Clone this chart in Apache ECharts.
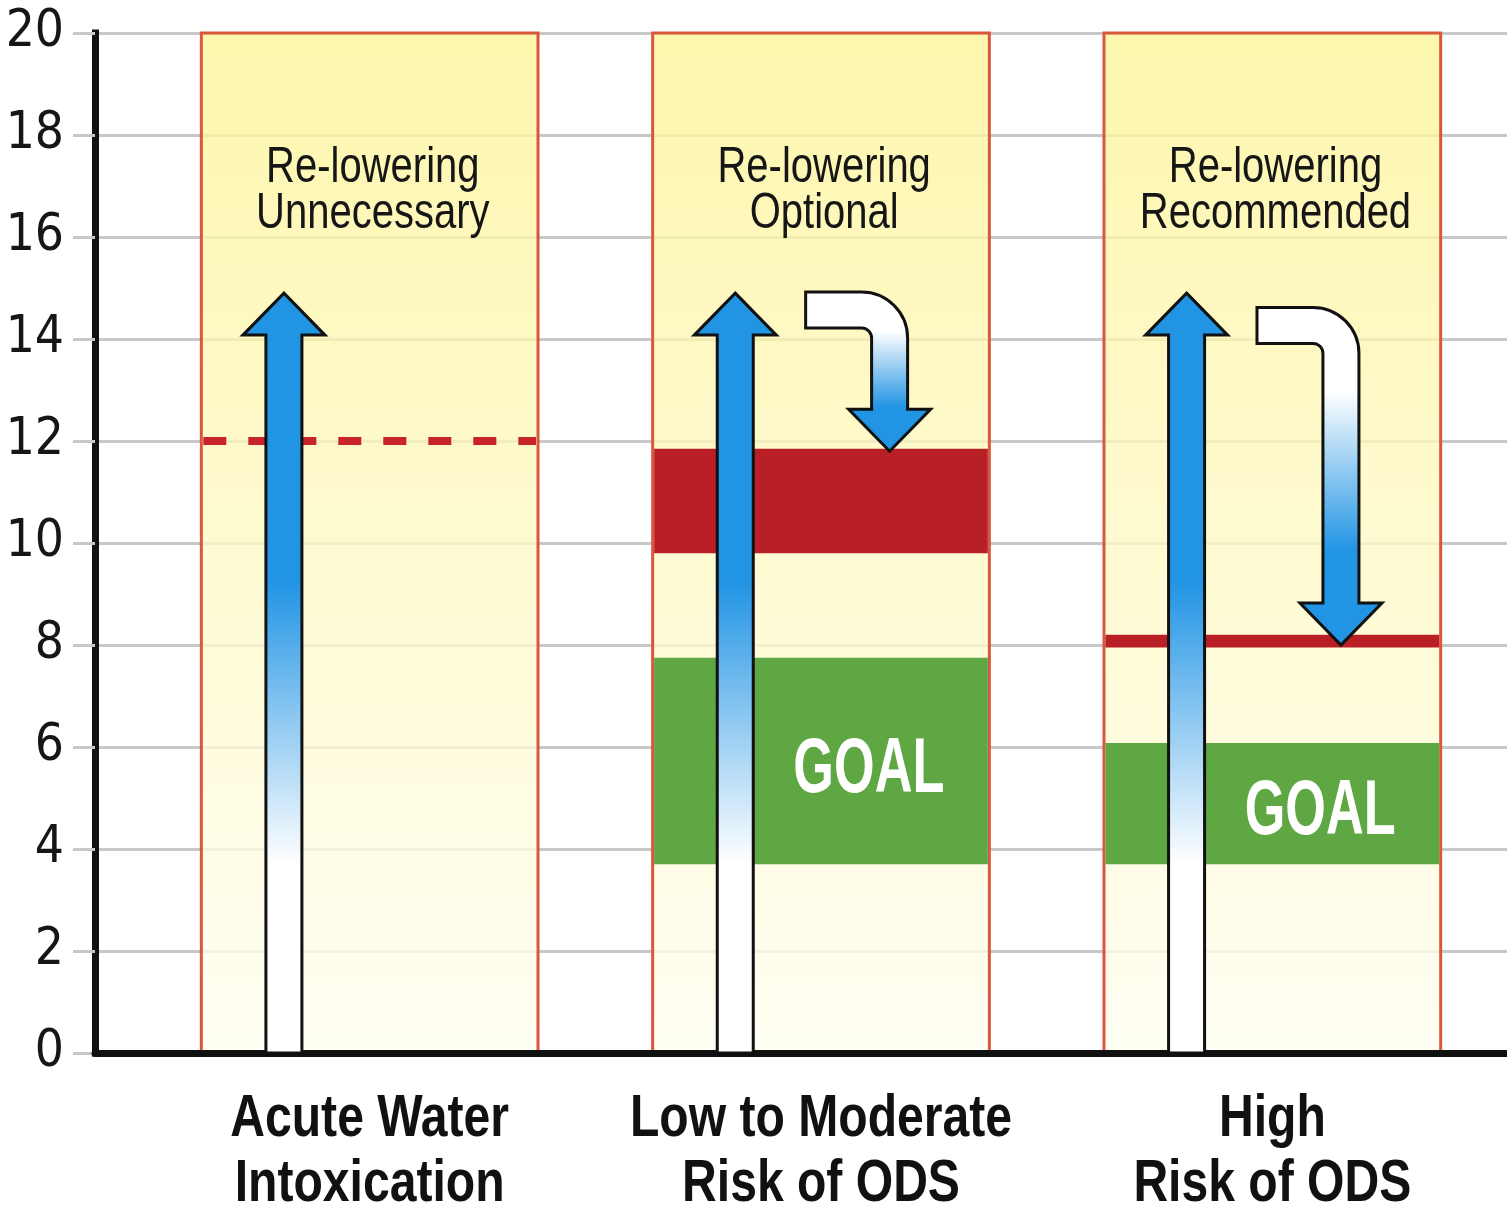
<!DOCTYPE html>
<html>
<head>
<meta charset="utf-8">
<script src="https://cdn.jsdelivr.net/npm/echarts@6/dist/echarts.min.js"></script>
<style>
  html, body { margin: 0; padding: 0; background: #ffffff; }
  #chart { width: 1507px; height: 1210px; }
</style>
</head>
<body>
<div id="chart"></div>
<script>
// ---- data ----
const categories = ['Acute Water\nIntoxication', 'Low to Moderate\nRisk of ODS', 'High\nRisk of ODS'];
const panelTitles = ['Re-lowering\nUnnecessary', 'Re-lowering\nOptional', 'Re-lowering\nRecommended'];
const yMin = 0, yMax = 20, yStep = 2;
const panelLow = [0, 0, 0];
const panelHigh = [20, 20, 20];
const titleLevel = [16.9, 16.9, 16.9];
const riseTop = [14.9, 14.9, 14.9];          // blue upward arrows (0 -> top)
const dashedLimit = [12, null, null];        // dashed red limit line
const limitLow = [null, 9.8, 7.95];          // solid red limit band
const limitHigh = [null, 11.85, 8.2];
const goalLow = [null, 3.7, 3.7];            // green goal band
const goalHigh = [null, 7.75, 6.08];
const goalText = [null, 'GOAL', 'GOAL'];
const relowerFrom = [null, 14.92, 14.62];    // hooked re-lowering arrows
const relowerTo = [null, 11.8, 8.0];

// ---- styling ----
const SANS = "'Liberation Sans', Arial, Helvetica, sans-serif";
const TICK_FONT = "'DejaVu Sans Condensed', 'Liberation Sans', sans-serif";
const BLUE = '#2194e4';
const PANEL_FRAC = 0.746;      // panel width as a share of the category band
const RISE_SHIFT = -0.19;      // up-arrow offset from band centre (share of band)
const HOOK_LEFT = -0.034;      // hook start offset (share of band)
const HOOK_SHAFT = 0.152;      // hook shaft offset (share of band)
const GOAL_SHIFT = 0.106;      // GOAL text offset (share of band)
const GOAL_DROP = 9;           // nudges GOAL so its caps sit centred in the band
const TITLE_SHIFT = 0.007;
const CAT_GAP = 34;            // gap between the baseline and the category labels
const ARROW = { half: 18, head: 41, len: 42, outerR: 46, innerR: 10 };

const chart = echarts.init(document.getElementById('chart'), null, { renderer: 'canvas' });

const panelFill = new echarts.graphic.LinearGradient(0, 0, 0, 1, [
  { offset: 0, color: 'rgba(253,244,150,0.78)' },
  { offset: 0.5, color: 'rgba(254,249,196,0.78)' },
  { offset: 1, color: 'rgba(255,254,240,0.78)' }
]);
const riseFill = new echarts.graphic.LinearGradient(0, 0, 0, 1, [
  { offset: 0, color: BLUE },
  { offset: 0.38, color: BLUE },
  { offset: 0.75, color: '#ffffff' },
  { offset: 1, color: '#ffffff' }
]);
const hookFill = new echarts.graphic.LinearGradient(0, 0, 0, 1, [
  { offset: 0, color: '#ffffff' },
  { offset: 0.25, color: '#ffffff' },
  { offset: 0.72, color: BLUE },
  { offset: 1, color: BLUE }
]);

function bandWidth(api) { return api.size([1, 0])[0]; }

function panelItem(params, api) {
  const i = api.value(0);
  const top = api.coord([i, api.value(2)]);
  const bot = api.coord([i, api.value(1)]);
  const w = bandWidth(api) * PANEL_FRAC;
  const x0 = top[0] - w / 2;
  return {
    type: 'group',
    children: [
      { type: 'rect', shape: { x: x0, y: top[1], width: w, height: bot[1] - top[1] }, style: { fill: panelFill } },
      {
        type: 'polyline',
        shape: { points: [[x0, bot[1]], [x0, top[1]], [x0 + w, top[1]], [x0 + w, bot[1]]] },
        style: { stroke: '#d9583d', lineWidth: 3, fill: 'none' }
      }
    ]
  };
}

function dashedItem(params, api) {
  const i = api.value(0);
  const p = api.coord([i, api.value(1)]);
  const w = bandWidth(api) * PANEL_FRAC;
  return {
    type: 'line',
    shape: { x1: p[0] - w / 2 + 2, y1: p[1], x2: p[0] + w / 2 - 2, y2: p[1] },
    style: { stroke: '#c8222b', lineWidth: 8, lineDash: [23, 22] }
  };
}

function bandItemFactory(color) {
  return function (params, api) {
    const i = api.value(0);
    const lo = api.coord([i, api.value(1)]);
    const hi = api.coord([i, api.value(2)]);
    const w = bandWidth(api) * PANEL_FRAC - 3;
    return {
      type: 'rect',
      shape: { x: lo[0] - w / 2, y: hi[1], width: w, height: lo[1] - hi[1] },
      style: { fill: color }
    };
  };
}

function riseItem(params, api) {
  const i = api.value(0);
  const b = bandWidth(api);
  const tip = api.coord([i, api.value(1)]);
  const base = api.coord([i, yMin]);
  const xc = tip[0] + b * RISE_SHIFT, yT = tip[1], yB = base[1];
  const h = ARROW.half, H = ARROW.head, L = ARROW.len;
  return {
    type: 'polygon',
    shape: { points: [[xc, yT], [xc + H, yT + L], [xc + h, yT + L], [xc + h, yB], [xc - h, yB], [xc - h, yT + L], [xc - H, yT + L]] },
    style: { fill: riseFill, stroke: '#111111', lineWidth: 3, lineJoin: 'miter' }
  };
}

function hookItem(params, api) {
  const i = api.value(0);
  const b = bandWidth(api);
  const start = api.coord([i, api.value(1)]);
  const end = api.coord([i, api.value(2)]);
  const xL = start[0] + b * HOOK_LEFT, yT = start[1];
  const xc = start[0] + b * HOOK_SHAFT, yTip = end[1];
  const h = ARROW.half, H = ARROW.head, L = ARROW.len, R = ARROW.outerR, r = ARROW.innerR;
  const d = [
    'M', xL, yT,
    'L', xc + h - R, yT,
    'A', R, R, 0, 0, 1, xc + h, yT + R,
    'L', xc + h, yTip - L,
    'L', xc + H, yTip - L,
    'L', xc, yTip,
    'L', xc - H, yTip - L,
    'L', xc - h, yTip - L,
    'L', xc - h, yT + 2 * h + r,
    'A', r, r, 0, 0, 0, xc - h - r, yT + 2 * h,
    'L', xL, yT + 2 * h,
    'Z'
  ].join(' ');
  return {
    type: 'path',
    shape: { pathData: d },
    style: { fill: hookFill, stroke: '#111111', lineWidth: 3, lineJoin: 'miter' }
  };
}

function goalItem(params, api) {
  const i = api.value(0);
  const b = bandWidth(api);
  const p = api.coord([i, (api.value(1) + api.value(2)) / 2]);
  return {
    type: 'text',
    x: p[0] + b * GOAL_SHIFT,
    y: p[1] + GOAL_DROP,
    scaleX: 0.67,
    style: {
      text: goalText[i],
      fill: '#ffffff',
      fontFamily: SANS,
      fontWeight: 'bold',
      fontSize: 78,
      align: 'center',
      verticalAlign: 'middle'
    }
  };
}

function titleItem(params, api) {
  const i = api.value(0);
  const b = bandWidth(api);
  const p = api.coord([i, api.value(1)]);
  return {
    type: 'text',
    x: p[0] + b * TITLE_SHIFT,
    y: p[1],
    scaleX: 0.8,
    style: {
      text: panelTitles[i],
      fill: '#161616',
      fontFamily: SANS,
      fontSize: 50,
      lineHeight: 46,
      align: 'center',
      verticalAlign: 'middle'
    }
  };
}

function categoryItem(params, api) {
  const i = api.value(0);
  const p = api.coord([i, yMin]);
  return {
    type: 'text',
    x: p[0],
    y: p[1] + CAT_GAP,
    scaleX: 0.815,
    style: {
      text: categories[i],
      fill: '#111111',
      fontFamily: SANS,
      fontWeight: 'bold',
      fontSize: 59,
      lineHeight: 65,
      align: 'center',
      verticalAlign: 'top'
    }
  };
}

const idx = categories.map((c, i) => i);
const panelData = idx.map(i => [i, panelLow[i], panelHigh[i]]);
const dashedData = idx.filter(i => dashedLimit[i] != null).map(i => [i, dashedLimit[i]]);
const limitData = idx.filter(i => limitLow[i] != null).map(i => [i, limitLow[i], limitHigh[i]]);
const goalData = idx.filter(i => goalLow[i] != null).map(i => [i, goalLow[i], goalHigh[i]]);
const riseData = idx.map(i => [i, riseTop[i]]);
const hookData = idx.filter(i => relowerFrom[i] != null).map(i => [i, relowerFrom[i], relowerTo[i]]);
const titleData = idx.map(i => [i, titleLevel[i]]);
const categoryData = idx.map(i => [i, yMin]);

const onPanels = { xAxisIndex: 1, yAxisIndex: 1, coordinateSystem: 'cartesian2d', silent: true, clip: false };

chart.setOption({
  animation: false,
  backgroundColor: '#ffffff',
  grid: [
    { left: 95, right: 0, top: 33, bottom: 157 },
    { left: 144, right: 9, top: 33, bottom: 157 }
  ],
  xAxis: [
    {
      gridIndex: 0, type: 'value', min: 0, max: 1, z: 2,
      axisLine: { show: true, onZero: false, lineStyle: { color: '#111111', width: 7 } },
      axisTick: { show: false }, axisLabel: { show: false }, splitLine: { show: false }
    },
    {
      gridIndex: 1, type: 'category', data: categories,
      axisLine: { show: false }, axisTick: { show: false }, splitLine: { show: false },
      axisLabel: { show: false }
    }
  ],
  yAxis: [
    {
      gridIndex: 0, type: 'value', min: yMin, max: yMax, interval: yStep, z: 0,
      axisLine: { show: true, onZero: false, lineStyle: { color: '#111111', width: 7, cap: 'square' } },
      axisTick: { show: true, length: 22, lineStyle: { color: '#c8c8c8', width: 3 } },
      axisLabel: { margin: 31, color: '#161616', fontFamily: TICK_FONT, fontSize: 51 },
      splitLine: { show: true, lineStyle: { color: '#c8c8c8', width: 3 } }
    },
    { gridIndex: 1, type: 'value', min: yMin, max: yMax, interval: yStep, show: false }
  ],
  series: [
    Object.assign({ type: 'custom', name: 'panels', z: 1, renderItem: panelItem, data: panelData }, onPanels),
    Object.assign({ type: 'custom', name: 'limit band', z: 2, renderItem: bandItemFactory('#b92026'), data: limitData }, onPanels),
    Object.assign({ type: 'custom', name: 'goal band', z: 2, renderItem: bandItemFactory('#5ea742'), data: goalData }, onPanels),
    Object.assign({ type: 'custom', name: 'dashed limit', z: 2, renderItem: dashedItem, data: dashedData }, onPanels),
    Object.assign({ type: 'custom', name: 'goal text', z: 4, renderItem: goalItem, data: goalData }, onPanels),
    Object.assign({ type: 'custom', name: 'rise', z: 3, renderItem: riseItem, data: riseData }, onPanels),
    Object.assign({ type: 'custom', name: 're-lowering', z: 3, renderItem: hookItem, data: hookData }, onPanels),
    Object.assign({ type: 'custom', name: 'titles', z: 4, renderItem: titleItem, data: titleData }, onPanels),
    Object.assign({ type: 'custom', name: 'categories', z: 4, renderItem: categoryItem, data: categoryData }, onPanels)
  ]
});
</script>
</body>
</html>
